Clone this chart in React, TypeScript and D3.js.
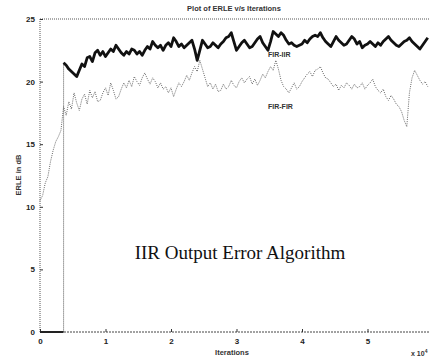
import { useEffect, useRef } from "react";
import * as d3 from "d3";

// ERLE (dB) of the IIR-adapted canceller, sampled every 0.04 x 10^4 iterations from 0.36
const iirStart = 0.36;
const iirValues = [
  21.5, 21.3, 21.0, 20.8, 20.6, 20.4, 20.9, 21.4, 21.2, 21.9,
  22.0, 21.6, 22.3, 22.5, 22.1, 22.4, 22.0, 22.3, 22.6, 22.4,
  22.9, 22.6, 22.3, 22.1, 22.4, 22.2, 22.6, 22.5, 22.2, 22.4,
  22.1, 22.5, 22.8, 22.6, 23.2, 22.9, 22.7, 22.9, 22.5, 22.9,
  23.1, 22.8, 23.5, 23.2, 22.8, 23.0, 22.7, 22.9, 23.1, 23.3,
  22.6, 21.7, 22.5, 23.3, 23.0, 22.7, 22.8, 23.1, 22.9, 22.7,
  23.0, 23.2, 23.5, 23.6, 23.9, 23.2, 22.5, 22.8, 23.1, 23.3,
  23.0, 22.7, 22.8, 23.1, 23.4, 23.6, 23.1, 22.8, 22.5, 23.2,
  24.0, 23.8, 23.6, 23.9, 23.7, 23.3, 23.0, 23.1, 22.9, 22.8,
  22.9, 23.0, 23.3, 23.1, 23.4, 23.6, 23.7, 23.6, 23.9, 23.5,
  23.2, 23.0, 22.8, 23.2, 23.6, 23.3, 23.1, 22.9, 23.0, 23.3,
  23.6, 23.4, 23.0, 23.2, 22.7, 22.9, 23.0, 23.2, 23.0, 22.8,
  23.1, 22.9, 23.2, 23.4, 23.6, 23.3, 23.1, 22.9, 22.8, 23.0,
  23.2, 23.3, 23.5, 23.2, 23.0, 22.8, 22.6, 22.9, 23.2, 23.5,
];
// before the switch-on the IIR curve sits at 0 dB
const iirLeadIn = [0, 0];

// ERLE (dB) of the FIR canceller, every 0.04 x 10^4 iterations from 0
const firValues = [
  10.5, 10.9, 11.9, 12.4, 13.6, 14.5, 15.2, 15.6, 16.1, 18.0,
  17.3, 18.4, 17.8, 19.1, 18.3, 17.7, 18.6, 19.0, 18.2, 19.3,
  18.7, 19.2, 18.4, 18.5, 19.1, 19.5, 18.9, 19.9, 19.3, 18.6,
  18.8, 19.4, 19.9, 19.5, 20.1, 19.6, 20.4, 20.0, 19.7, 20.3,
  20.7, 20.2, 19.8, 20.3, 20.0, 19.5, 19.9, 19.4, 19.6, 19.1,
  19.5, 18.8, 19.4, 19.9, 19.6, 20.0, 20.5, 20.1, 20.7, 21.2,
  20.8, 21.7, 21.0, 20.3, 19.6, 19.9, 19.4, 19.8, 19.2, 19.3,
  19.8, 19.4, 19.6, 20.1, 19.7, 19.5, 20.0, 20.3, 19.9, 20.2,
  20.4, 19.8, 20.2, 19.7, 20.1, 20.6, 20.3, 20.8, 21.2, 20.9,
  21.7, 21.0, 20.1, 19.6, 19.4, 19.1, 19.5, 19.9, 19.4, 19.6,
  20.0, 20.3, 20.6, 20.8, 20.4, 20.9, 21.0, 21.2, 20.7, 20.3,
  20.2, 19.9, 19.6, 19.8, 19.3, 19.7, 19.5, 19.9, 19.7, 19.4,
  19.8, 19.5, 19.6, 19.9, 19.4, 19.7, 19.9, 20.2, 19.6, 19.3,
  19.1, 19.4, 18.8, 18.5, 18.9, 18.6, 18.2, 18.0, 17.6, 16.9,
  16.4, 19.1, 20.3, 20.9, 20.5, 20.1, 19.8, 20.0, 19.6,
];
const step = 0.04;

const xTicks = [0, 1, 2, 3, 4, 5];
const yTicks = [0, 5, 10, 15, 20, 25];

const App = () => {
  const svgRef = useRef<SVGSVGElement>(null);

  useEffect(() => {
    const width = 429;
    const height = 360;
    const left = 40;
    const top = 19;
    const bottom = 332;

    const x = d3.scaleLinear().domain([0, 6]).range([left, left + 6 * 65.5]);
    const y = d3.scaleLinear().domain([0, 25]).range([bottom, top]);

    const svg = d3
      .select(svgRef.current)
      .attr("width", width)
      .attr("height", height)
      .attr("viewBox", [0, 0, width, height]);

    svg.selectAll("*").remove();
    svg.append("rect").attr("width", width).attr("height", height).attr("fill", "#fff");

    const font = "Liberation Sans, Arial, sans-serif";
    const dotted = "1,1";

    // box lines (left, top, bottom), dotted like the scan
    svg.append("line")
      .attr("x1", left).attr("x2", left).attr("y1", top).attr("y2", bottom)
      .attr("stroke", "#555").attr("stroke-dasharray", dotted);
    svg.append("line")
      .attr("x1", left).attr("x2", width).attr("y1", top).attr("y2", top)
      .attr("stroke", "#555").attr("stroke-dasharray", dotted);
    svg.append("line")
      .attr("x1", left).attr("x2", width).attr("y1", bottom).attr("y2", bottom)
      .attr("stroke", "#444").attr("stroke-dasharray", "2,1");

    // y axis
    const yAxis = svg.append("g")
      .attr("transform", `translate(${left},0)`)
      .call(d3.axisLeft(y).tickValues(yTicks).tickFormat(d3.format("d")).tickSize(-3).tickPadding(5));
    yAxis.select(".domain").remove();
    yAxis.selectAll(".tick line").attr("stroke", "#333");
    yAxis.selectAll(".tick text")
      .attr("font-family", font).attr("font-size", 8).attr("font-weight", "bold").attr("fill", "#222");

    // x axis
    const xAxis = svg.append("g")
      .attr("transform", `translate(0,${bottom})`)
      .call(d3.axisBottom(x).tickValues(xTicks).tickFormat(d3.format("d")).tickSize(-3).tickPadding(6));
    xAxis.select(".domain").remove();
    xAxis.selectAll(".tick line").attr("stroke", "#333");
    xAxis.selectAll(".tick text")
      .attr("font-family", font).attr("font-size", 8).attr("font-weight", "bold").attr("fill", "#222");

    const line = d3
      .line<[number, number]>()
      .x((d) => x(d[0]))
      .y((d) => y(d[1]));

    // FIR curve, thin grey dots
    const firPts: [number, number][] = firValues.map((v, i) => [i * step, v]);
    svg.append("path")
      .attr("fill", "none")
      .attr("stroke", "#666")
      .attr("stroke-width", 1)
      .attr("stroke-dasharray", "1,1.2")
      .attr("d", line(firPts));

    // IIR lead-in at 0 dB and the jump
    const iirPts: [number, number][] = iirValues.map((v, i) => [iirStart + i * step, v]);
    const leadPts: [number, number][] = [
      [0, iirLeadIn[0]],
      [iirStart, iirLeadIn[1]],
      iirPts[0],
    ];
    svg.append("path")
      .attr("fill", "none")
      .attr("stroke", "#555")
      .attr("stroke-width", 1)
      .attr("stroke-dasharray", "1,1")
      .attr("d", line(leadPts));
    svg.append("line")
      .attr("x1", x(0)).attr("x2", x(iirStart)).attr("y1", y(0)).attr("y2", y(0))
      .attr("stroke", "#222").attr("stroke-width", 2);

    // IIR curve, heavy black
    svg.append("path")
      .attr("fill", "none")
      .attr("stroke", "#111")
      .attr("stroke-width", 2.8)
      .attr("stroke-linejoin", "round")
      .attr("d", line(iirPts));

    // curve labels
    svg.append("text")
      .attr("x", 268).attr("y", 57)
      .attr("font-family", font).attr("font-size", 7).attr("font-weight", "bold").attr("fill", "#333")
      .text("FIR-IIR");
    svg.append("text")
      .attr("x", 268).attr("y", 109)
      .attr("font-family", font).attr("font-size", 7).attr("font-weight", "bold").attr("fill", "#333")
      .text("FIR-FIR");

    // title and axis labels
    svg.append("text")
      .attr("x", 234).attr("y", 11).attr("text-anchor", "middle")
      .attr("font-family", font).attr("font-size", 7.5).attr("font-weight", "bold").attr("fill", "#333")
      .text("Plot of ERLE v/s Iterations");
    svg.append("text")
      .attr("x", 232).attr("y", 355).attr("text-anchor", "middle")
      .attr("font-family", font).attr("font-size", 7.5).attr("font-weight", "bold").attr("fill", "#333")
      .text("Iterations");
    svg.append("text")
      .attr("transform", "translate(21,175) rotate(-90)").attr("text-anchor", "middle")
      .attr("font-family", font).attr("font-size", 7.5).attr("font-weight", "bold").attr("fill", "#333")
      .text("ERLE in dB");
    const exp = svg.append("text")
      .attr("x", 411).attr("y", 356)
      .attr("font-family", font).attr("font-size", 7).attr("font-weight", "bold").attr("fill", "#333")
      .text("x 10");
    exp.append("tspan").attr("dy", -3).attr("font-size", 5).text("4");

    // caption inside the plot
    svg.append("text")
      .attr("x", 240).attr("y", 259).attr("text-anchor", "middle")
      .attr("font-family", "Liberation Serif, Times New Roman, serif")
      .attr("font-size", 19).attr("fill", "#111")
      .text("IIR Output Error Algorithm");
  }, []);

  return (
    <div style={{ position: "absolute", left: 0, top: 0 }}>
      <svg ref={svgRef}></svg>
    </div>
  );
};

export default App;
